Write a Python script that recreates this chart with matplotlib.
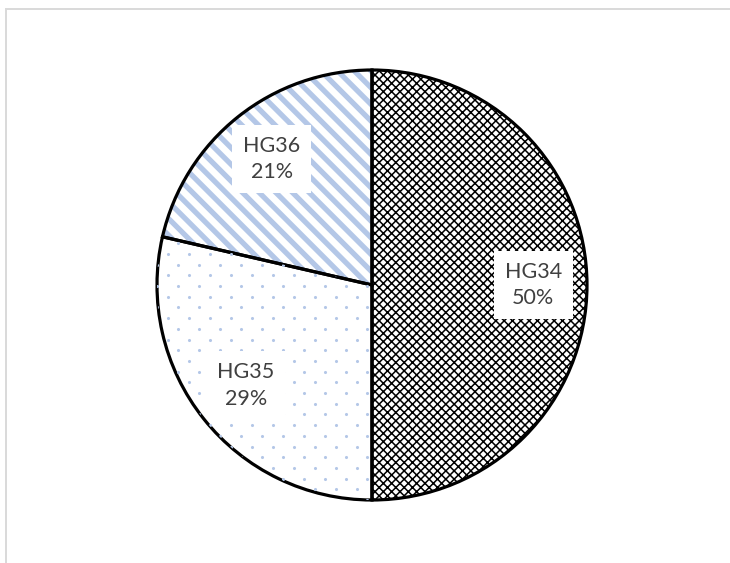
import matplotlib
matplotlib.use('Agg')
import matplotlib.pyplot as plt
import numpy as np
from matplotlib.patches import Rectangle

# Data
labels = ['HG34', 'HG35', 'HG36']
shares = [50.0, 28.6, 21.4]

hatch_colors = ['#000000', '#b4c7e7', '#b4c7e7']
hatches = ['xxxx', '', '\\\\']
hatch_widths = [1.1, 0.5, 3.8]

W, H = 730, 563
fig = plt.figure(figsize=(W / 100, H / 100), dpi=100)

# light gray chart frame
fig.patches.append(Rectangle((6 / W, -0.1), 1.2, (H - 9) / H + 0.1, transform=fig.transFigure,
                             fill=False, edgecolor='#d9d9d9', linewidth=1.4))

cx, cy, R = 372, 563 - 285, 215
ax = fig.add_axes([(cx - R) / W, (cy - R) / H, 2 * R / W, 2 * R / H])

# hatch layer
wedges, _ = ax.pie(shares, startangle=90, counterclock=False, radius=1,
                   colors=['white'] * 3, wedgeprops=dict(linewidth=0))
for w, hc, ht, hw in zip(wedges, hatch_colors, hatches, hatch_widths):
    w.set_hatch(ht)
    w.set_edgecolor(hc)
    if hasattr(w, 'set_hatch_linewidth'):
        w.set_hatch_linewidth(hw)

# dotted texture for HG35 (staggered grid, clipped to its wedge)
px = 2 / (2 * R)
gx, gy = 21 * px, 10.7 * px
dots_x, dots_y = [], []
for j, yy in enumerate(np.arange(-1, 1, gy)):
    xs = np.arange(-1 + (j % 2) * gx / 2, 1, gx)
    dots_x.extend(xs)
    dots_y.extend([yy] * len(xs))
dots = ax.scatter(dots_x, dots_y, s=5, color='#b4c7e7', linewidths=0, zorder=1.5)
dots.set_clip_path(wedges[1])

# outline layer
ax.pie(shares, startangle=90, counterclock=False, radius=1,
       colors=['none'] * 3, wedgeprops=dict(linewidth=2.3, edgecolor='black'))

# labels in white boxes
for w, name, val in zip(wedges, labels, shares):
    mid = np.deg2rad((w.theta1 + w.theta2) / 2)
    r = 0.75
    ax.text(r * np.cos(mid), r * np.sin(mid), f'{name}\n{val:.0f}%', ha='center', va='center',
            fontsize=15.5, family='Lato', color='#404040', linespacing=1.4, zorder=5,
            bbox=dict(boxstyle='square,pad=0.5', facecolor='white', edgecolor='none'))

ax.set_xlim(-1, 1)
ax.set_ylim(-1, 1)
ax.set_aspect('auto')
ax.axis('off')

fig.savefig('out.png', dpi=100)
